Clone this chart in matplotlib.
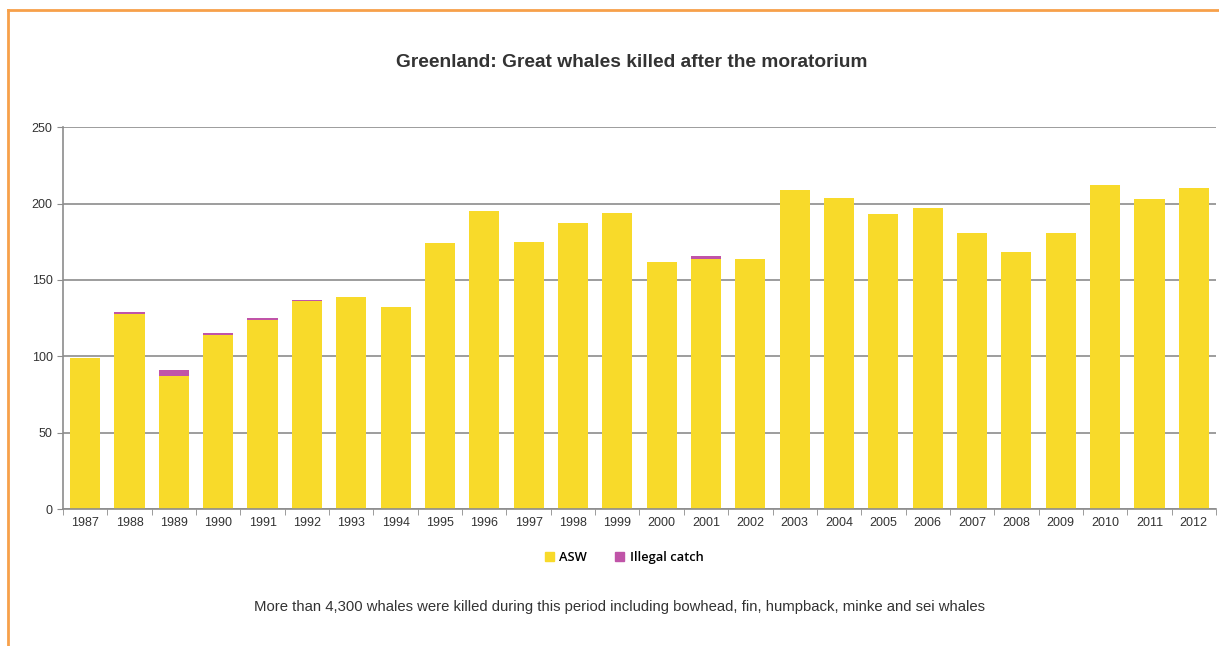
import matplotlib
matplotlib.use("Agg")
import matplotlib.pyplot as plt
from matplotlib.lines import Line2D
from matplotlib.patches import Patch
import numpy as np

years = [str(y) for y in range(1987, 2013)]
asw = [99, 128, 87, 114, 124, 136, 139, 132, 174, 195, 175, 187, 194,
       162, 164, 164, 209, 204, 193, 197, 181, 168, 181, 212, 203, 210]
illegal = [0, 1, 4, 1, 1, 1, 0, 0, 0, 0, 0, 0, 0,
           0, 2, 0, 0, 0, 0, 0, 0, 0, 0, 0, 0, 0]

narrow = ['Liberation Sans', 'DejaVu Sans']

fig = plt.figure(figsize=(12.19, 6.46), dpi=100)
ax = fig.add_axes([0.0517, 0.212, 0.9458, 0.591])

x = np.arange(len(years))
ax.bar(x, asw, width=0.68, color='#F8DA2A', zorder=2)
ax.bar(x, illegal, width=0.68, bottom=asw, color='#C054A8', zorder=2)

ax.set_xlim(-0.5, len(years) - 0.5)
ax.set_ylim(0, 250)
ax.set_yticks([0, 50, 100, 150, 200, 250])
ax.yaxis.grid(True, color='#8c8c8c', linewidth=1.2, zorder=0)
ax.set_xticks(x)
ax.set_xticklabels(years, family=narrow, fontsize=9, color='#333333')
ax.set_xticks(np.arange(-0.5, len(years), 1), minor=True)
ax.tick_params(axis='x', which='major', length=0, pad=6)
ax.tick_params(axis='x', which='minor', length=4, color='#8c8c8c')
ax.tick_params(axis='y', length=4, color='#8c8c8c', labelsize=9, labelcolor='#333333')
for lab in ax.get_yticklabels():
    lab.set_family(narrow)
for s in ['top', 'right']:
    ax.spines[s].set_visible(False)
for s in ['left', 'bottom']:
    ax.spines[s].set_color('#8c8c8c')
    ax.spines[s].set_linewidth(1.2)

fig.text(0.518, 0.904, 'Greenland: Great whales killed after the moratorium',
         ha='center', va='center', family=narrow, fontsize=13.8,
         fontweight='bold', color='#333333')

handles = [Patch(color='#F8DA2A', label='ASW'),
           Patch(color='#C054A8', label='Illegal catch')]
fig.legend(handles=handles, loc='center', bbox_to_anchor=(0.512, 0.137),
           ncol=2, frameon=False, handlelength=0.7, handleheight=0.7,
           columnspacing=2.2, handletextpad=0.4,
           prop={'family': ['Open Sans', 'DejaVu Sans'], 'size': 9.3,
                 'weight': 'semibold'})

fig.text(0.508, 0.06, 'More than 4,300 whales were killed during this period '
         'including bowhead, fin, humpback, minke and sei whales',
         ha='center', va='center', family=narrow, fontsize=10.7,
         color='#333333')

# orange frame (left and top edges)
fig.add_artist(Line2D([0.0066, 0.0066], [0.0, 0.984], color='#F7A04A',
                      linewidth=2, transform=fig.transFigure))
fig.add_artist(Line2D([0.0066, 1.0], [0.984, 0.984], color='#F7A04A',
                      linewidth=2, transform=fig.transFigure))

fig.savefig('out.png', dpi=100)
